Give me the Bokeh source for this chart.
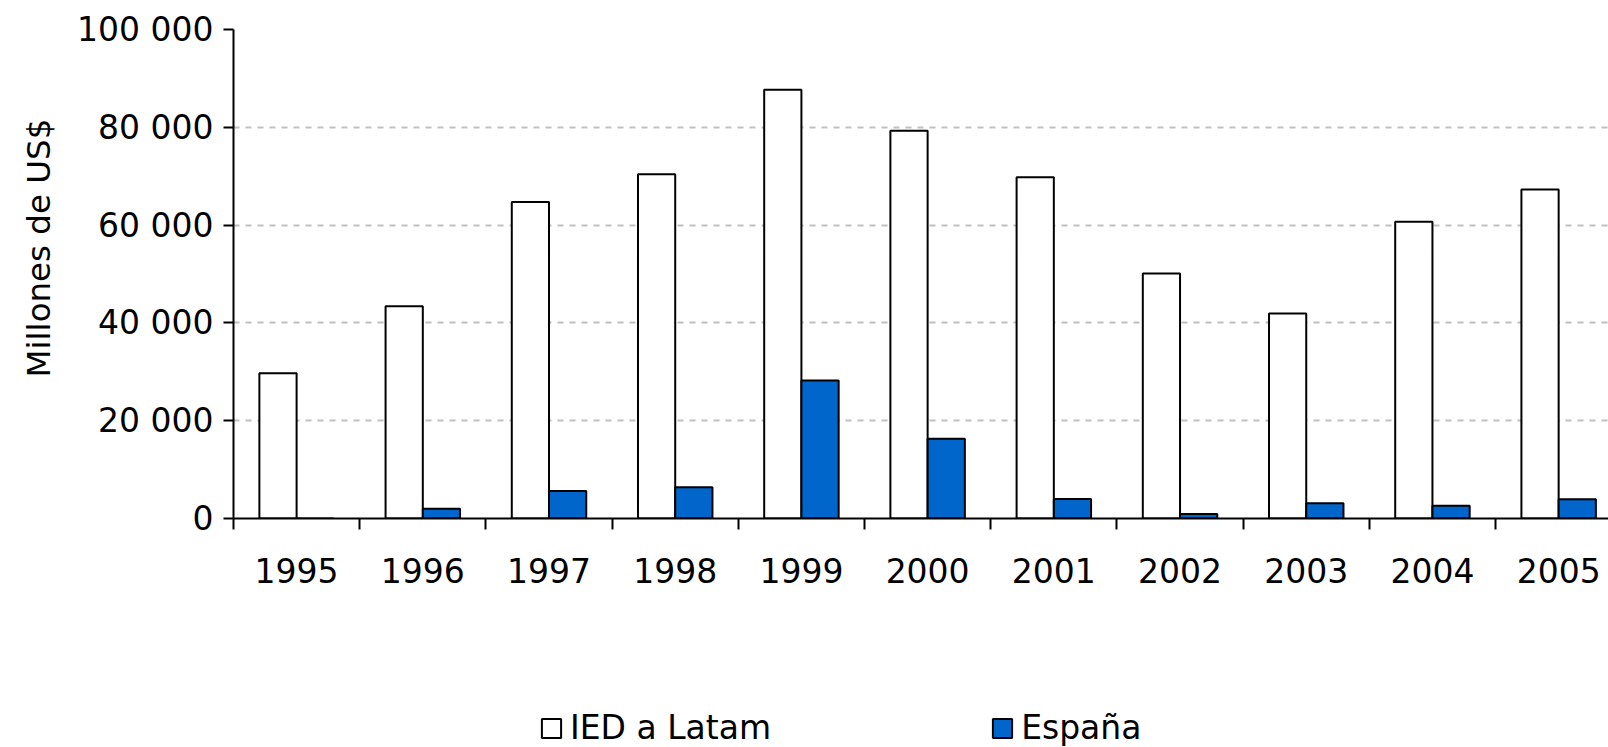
from bokeh.plotting import figure
from bokeh.layouts import column
from bokeh.models import (Range1d, FixedTicker, ColumnDataSource, Legend, LegendItem,
                          CDSView, IndexFilter, Title)
from bokeh.embed import file_html
from bokeh.resources import INLINE

years = ["1995", "1996", "1997", "1998", "1999", "2000", "2001", "2002", "2003", "2004", "2005"]
ied_latam = [29700, 43400, 64700, 70400, 87700, 79300, 69800, 50100, 41900, 60700, 67300]
espana = [0, 2000, 5600, 6400, 28200, 16300, 4000, 900, 3100, 2600, 3950]
y_ticks = [0, 20000, 40000, 60000, 80000, 100000]
y_tick_labels = ["0", "20 000", "40 000", "60 000", "80 000", "100 000"]
series_names = ["IED a Latam", "España"]
y_title = "Millones de US$"

FONT = "DejaVu Sans"
BW = 0.295
BLUE = "#0066CC"
idx = list(range(len(years)))

src = ColumnDataSource(dict(
    x_ied=[i - BW / 2 for i in idx],
    x_esp=[i + BW / 2 for i in idx],
    ied=ied_latam,
    esp=espana,
))

p = figure(width=1608, height=627, output_backend="svg", toolbar_location=None,
           x_range=Range1d(-0.5, 10.395), y_range=Range1d(0, 100000),
           min_border_left=232, min_border_right=0, min_border_top=29, min_border_bottom=109)
p.outline_line_color = None
p.background_fill_color = "white"
p.border_fill_color = "white"

p.vbar(x="x_ied", top="ied", width=BW, source=src, fill_color="white",
       line_color="black", line_width=2)
p.vbar(x="x_esp", top="esp", width=BW, source=src, fill_color=BLUE,
       line_color="black", line_width=2)

# x axis
p.xaxis.ticker = FixedTicker(ticks=idx, minor_ticks=[i - 0.5 for i in range(len(years) + 1)])
p.xaxis.major_label_overrides = {i: y for i, y in enumerate(years)}
p.xaxis.major_tick_out = 0
p.xaxis.major_tick_in = 0
p.xaxis.minor_tick_out = 11
p.xaxis.minor_tick_in = 0
p.xaxis.minor_tick_line_color = "black"
p.xaxis.minor_tick_line_width = 2
p.xaxis.axis_line_color = "black"
p.xaxis.axis_line_width = 2
p.xaxis.major_label_text_font = FONT
p.xaxis.major_label_text_font_size = "33px"
p.xaxis.major_label_text_color = "black"
p.xaxis.major_label_standoff = 28

# y axis
p.yaxis.ticker = FixedTicker(ticks=y_ticks)
p.yaxis.major_label_overrides = {t: l for t, l in zip(y_ticks, y_tick_labels)}
p.yaxis.major_tick_out = 10
p.yaxis.major_tick_in = 0
p.yaxis.major_tick_line_width = 2
p.yaxis.minor_tick_line_color = None
p.yaxis.axis_line_color = "black"
p.yaxis.axis_line_width = 2
p.yaxis.major_label_text_font = FONT
p.yaxis.major_label_text_font_size = "33px"
p.yaxis.major_label_text_color = "black"
p.yaxis.major_label_standoff = 10

# y axis title, placed off-centre like the reference
p.add_layout(Title(text=y_title, align="left", offset=141, text_font=FONT,
                   text_font_size="32.5px", text_font_style="normal",
                   text_color="black", standoff=34), "left")

p.xgrid.grid_line_color = None
p.ygrid.grid_line_color = "#C0C0C0"
p.ygrid.grid_line_width = 2
p.ygrid.grid_line_dash = "6 6"

# legend strip below the chart (frame aligned with the main chart's frame);
# its helper renderers are hidden and only lend their style to the legend
p2 = figure(width=1608, height=120, output_backend="svg", toolbar_location=None,
            x_range=Range1d(1000, 1001), y_range=Range1d(-1e9, -1e9 + 1),
            x_axis_type=None, y_axis_type=None, min_border=0)
p2.outline_line_color = None
p2.xgrid.grid_line_color = None
p2.ygrid.grid_line_color = None
legend_view = CDSView(filter=IndexFilter([4]))
lr1 = p2.vbar(x="x_ied", top="ied", width=BW, source=src, view=legend_view,
              fill_color="white", line_color="black", line_width=2)
lr2 = p2.vbar(x="x_esp", top="esp", width=BW, source=src, view=legend_view,
              fill_color=BLUE, line_color="black", line_width=2)
lr1.visible = False
lr2.visible = False

legend = Legend(items=[LegendItem(label=series_names[0], renderers=[lr1]),
                       LegendItem(label=series_names[1], renderers=[lr2])],
                orientation="horizontal", location=(306, 0),
                label_text_font=FONT, label_text_font_size="33px",
                label_text_color="black", glyph_width=24, glyph_height=24,
                label_standoff=7, spacing=219, padding=0, margin=0,
                border_line_color=None, background_fill_alpha=0)
p2.add_layout(legend, "center")

layout = column(p, p2, spacing=0)
open("out.html", "w").write(file_html(layout, INLINE))
